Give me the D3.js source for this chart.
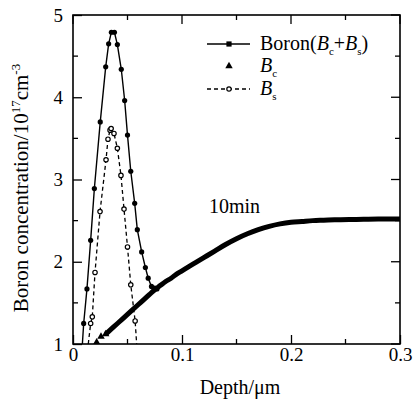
<!DOCTYPE html>
<html>
<head>
<meta charset="utf-8">
<script src="https://cdn.jsdelivr.net/npm/d3@7"></script>
<style>
  body { margin: 0; background: #fff; }
  svg text { font-family: "Liberation Serif", "Times New Roman", "DejaVu Serif", serif; }
</style>
</head>
<body>
<div id="chart"></div>
<script>
// Boron depth profile after 10 min anneal

// total boron, Bc + Bs (solid line, filled circles)
const boronX = [0.0086, 0.0098, 0.0128, 0.0162, 0.0196, 0.025, 0.030, 0.0327, 0.0352, 0.038,
    0.0407, 0.0443, 0.0474, 0.050, 0.053, 0.0566, 0.059, 0.063, 0.0664, 0.069, 0.072, 0.075, 0.077];
const boronY = [1.0, 1.25, 1.67, 2.26, 2.89, 3.70, 4.37, 4.65, 4.79, 4.79,
    4.64, 4.34, 3.96, 3.54, 3.10, 2.71, 2.39, 2.12, 1.93, 1.80, 1.70, 1.68, 1.67];

// Bc (triangles, dense)
const bcX = [0.0217, 0.0257, 0.03, 0.035, 0.04, 0.045, 0.05, 0.055, 0.06, 0.065, 0.07, 0.075, 0.08,
    0.085, 0.09, 0.095, 0.10, 0.11, 0.12, 0.13, 0.14, 0.15, 0.16, 0.17, 0.18, 0.19, 0.20,
    0.21, 0.22, 0.23, 0.24, 0.26, 0.28, 0.30];
const bcY = [1.02, 1.09, 1.12, 1.18, 1.24, 1.30, 1.36, 1.42, 1.48, 1.54, 1.60, 1.66, 1.71,
    1.76, 1.80, 1.85, 1.89, 1.97, 2.05, 2.13, 2.21, 2.28, 2.34, 2.39, 2.43, 2.46, 2.48,
    2.49, 2.50, 2.505, 2.51, 2.515, 2.52, 2.52];

// Bs (dashed line, open circles)
const bsX = [0.014, 0.0162, 0.0177, 0.0202, 0.0248, 0.0303, 0.0321, 0.034, 0.035, 0.0376,
    0.0407, 0.044, 0.0468, 0.050, 0.053, 0.057, 0.0584];
const bsY = [1.0, 1.25, 1.33, 1.87, 2.61, 3.24, 3.49, 3.60, 3.62, 3.56,
    3.38, 3.05, 2.64, 2.18, 1.72, 1.28, 1.0];

const xTicks = [0, 0.1, 0.2, 0.3];
const xTickLabels = ['0', '0.1', '0.2', '0.3'];
const yTicks = [1, 2, 3, 4, 5];

const width = 415, height = 405;
const margin = { top: 15, right: 15, bottom: 61, left: 73 };

const svg = d3.select('#chart').append('svg')
    .attr('width', width)
    .attr('height', height);

const x = d3.scaleLinear().domain([0, 0.3]).range([margin.left, width - margin.right]);
const y = d3.scaleLinear().domain([1, 5]).range([height - margin.bottom, margin.top]);

const zip = (xs, ys) => xs.map((v, i) => ({ x: v, y: ys[i] }));
const boron = zip(boronX, boronY);
const bc = zip(bcX, bcY);
const bs = zip(bsX, bsY);

// clip to plot area
svg.append('clipPath').attr('id', 'plot-clip')
    .append('rect')
    .attr('x', margin.left).attr('y', margin.top)
    .attr('width', width - margin.left - margin.right)
    .attr('height', height - margin.top - margin.bottom);

const plot = svg.append('g').attr('clip-path', 'url(#plot-clip)');

const line = d3.line().x(d => x(d.x)).y(d => y(d.y));
const smooth = d3.line().x(d => x(d.x)).y(d => y(d.y)).curve(d3.curveMonotoneX);

// Bc thick curve (markers so dense they merge)
plot.append('path')
    .datum(bc.slice(2))
    .attr('d', smooth)
    .attr('fill', 'none')
    .attr('stroke', '#000')
    .attr('stroke-width', 5);

const tri = d3.symbol().type(d3.symbolTriangle).size(24);
plot.selectAll('.bc-pt')
    .data(bc.slice(0, 3))
    .enter().append('path')
    .attr('class', 'bc-pt')
    .attr('transform', d => `translate(${x(d.x)},${y(d.y)})`)
    .attr('d', tri)
    .attr('fill', '#000');

// Bs dashed
plot.append('path')
    .datum(bs)
    .attr('d', line)
    .attr('fill', 'none')
    .attr('stroke', '#000')
    .attr('stroke-width', 1.3)
    .attr('stroke-dasharray', '4,3');

plot.selectAll('.bs-pt')
    .data(bs.filter(d => d.y > 1))
    .enter().append('circle')
    .attr('class', 'bs-pt')
    .attr('cx', d => x(d.x))
    .attr('cy', d => y(d.y))
    .attr('r', 2.2)
    .attr('fill', '#fff')
    .attr('stroke', '#000')
    .attr('stroke-width', 1.2);

// Boron solid
plot.append('path')
    .datum(boron)
    .attr('d', line)
    .attr('fill', 'none')
    .attr('stroke', '#000')
    .attr('stroke-width', 1.4);

plot.selectAll('.boron-pt')
    .data(boron.filter(d => d.y > 1))
    .enter().append('circle')
    .attr('class', 'boron-pt')
    .attr('cx', d => x(d.x))
    .attr('cy', d => y(d.y))
    .attr('r', 2.6)
    .attr('fill', '#000');

// axes, ticks inside on all four sides
const fmtX = d => xTickLabels[xTicks.indexOf(d)];
svg.append('g')
    .attr('transform', `translate(0,${height - margin.bottom})`)
    .call(d3.axisBottom(x).tickValues(xTicks).tickFormat(fmtX).tickSizeInner(-9).tickSizeOuter(0).tickPadding(4));
svg.append('g')
    .attr('transform', `translate(${margin.left},0)`)
    .call(d3.axisLeft(y).tickValues(yTicks).tickFormat(d3.format('d')).tickSizeInner(-9).tickSizeOuter(0).tickPadding(10));

// minor ticks
const xMinor = [0.05, 0.15, 0.25];
const yMinor = [1.5, 2.5, 3.5, 4.5];
svg.append('g').selectAll('line').data(xMinor).enter().append('line')
    .attr('x1', d => x(d)).attr('x2', d => x(d))
    .attr('y1', height - margin.bottom).attr('y2', height - margin.bottom - 5);
svg.append('g').selectAll('line').data(yMinor).enter().append('line')
    .attr('x1', margin.left).attr('x2', margin.left + 5)
    .attr('y1', d => y(d)).attr('y2', d => y(d));

// mirrored ticks on top / right
svg.append('g').selectAll('line').data(xTicks.concat(xMinor)).enter().append('line')
    .attr('x1', d => x(d)).attr('x2', d => x(d))
    .attr('y1', margin.top).attr('y2', d => margin.top + (xTicks.includes(d) ? 9 : 5));
svg.append('g').selectAll('line').data(yTicks.concat(yMinor)).enter().append('line')
    .attr('x1', width - margin.right).attr('x2', d => width - margin.right - (yTicks.includes(d) ? 9 : 5))
    .attr('y1', d => y(d)).attr('y2', d => y(d));

svg.selectAll('line').attr('stroke', '#000').attr('stroke-width', 1.3);

// frame
svg.append('rect')
    .attr('x', margin.left).attr('y', margin.top)
    .attr('width', width - margin.left - margin.right)
    .attr('height', height - margin.top - margin.bottom)
    .attr('fill', 'none')
    .attr('stroke', '#000')
    .attr('stroke-width', 1.6);

svg.selectAll('.domain').remove();
svg.selectAll('.tick text')
    .attr('font-size', 19)
    .attr('fill', '#000');
svg.selectAll('g').attr('font-family', null);

// axis titles
svg.append('text')
    .attr('x', 240).attr('y', 394)
    .attr('text-anchor', 'middle')
    .attr('font-size', 20)
    .text('Depth/\u03bcm');

const yTitle = svg.append('text')
    .attr('transform', 'translate(28,188) rotate(-90)')
    .attr('text-anchor', 'middle')
    .attr('font-size', 21);
yTitle.append('tspan').text('Boron concentration/10');
yTitle.append('tspan').attr('font-size', 13).attr('dy', -8).text('17');
yTitle.append('tspan').attr('dy', 8).text('cm');
yTitle.append('tspan').attr('font-size', 13).attr('dy', -8).text('-3');

// annotation
svg.append('text')
    .attr('x', 209).attr('y', 213)
    .attr('font-size', 20)
    .text('10min');

// legend
const legend = svg.append('g');
const lx0 = 207, lx1 = 250, ltx = 260;
const rows = [44, 66, 89];

legend.append('line')
    .attr('x1', lx0).attr('x2', lx1).attr('y1', rows[0]).attr('y2', rows[0])
    .attr('stroke', '#000').attr('stroke-width', 1.4);
legend.append('rect')
    .attr('x', 229 - 2.6).attr('y', rows[0] - 2.6).attr('width', 5.2).attr('height', 5.2)
    .attr('fill', '#000');

legend.append('path')
    .attr('transform', `translate(229,${rows[1]})`)
    .attr('d', tri)
    .attr('fill', '#000');

legend.append('line')
    .attr('x1', lx0).attr('x2', lx1).attr('y1', rows[2]).attr('y2', rows[2])
    .attr('stroke', '#000').attr('stroke-width', 1.3).attr('stroke-dasharray', '4,3');
legend.append('circle')
    .attr('cx', 229).attr('cy', rows[2]).attr('r', 2.2)
    .attr('fill', '#fff').attr('stroke', '#000').attr('stroke-width', 1.2);

const t1 = legend.append('text').attr('x', ltx).attr('y', rows[0] + 6).attr('font-size', 20);
t1.append('tspan').text('Boron(');
t1.append('tspan').attr('font-style', 'italic').text('B');
t1.append('tspan').attr('font-size', 11).attr('dy', 5).text('c');
t1.append('tspan').attr('dy', -5).text('+');
t1.append('tspan').attr('font-style', 'italic').text('B');
t1.append('tspan').attr('font-size', 11).attr('dy', 5).text('s');
t1.append('tspan').attr('dy', -5).text(')');

const t2 = legend.append('text').attr('x', ltx).attr('y', rows[1] + 6).attr('font-size', 20);
t2.append('tspan').attr('font-style', 'italic').text('B');
t2.append('tspan').attr('font-size', 11).attr('dy', 5).text('c');

const t3 = legend.append('text').attr('x', ltx).attr('y', rows[2] + 6).attr('font-size', 20);
t3.append('tspan').attr('font-style', 'italic').text('B');
t3.append('tspan').attr('font-size', 11).attr('dy', 5).text('s');
</script>
</body>
</html>
